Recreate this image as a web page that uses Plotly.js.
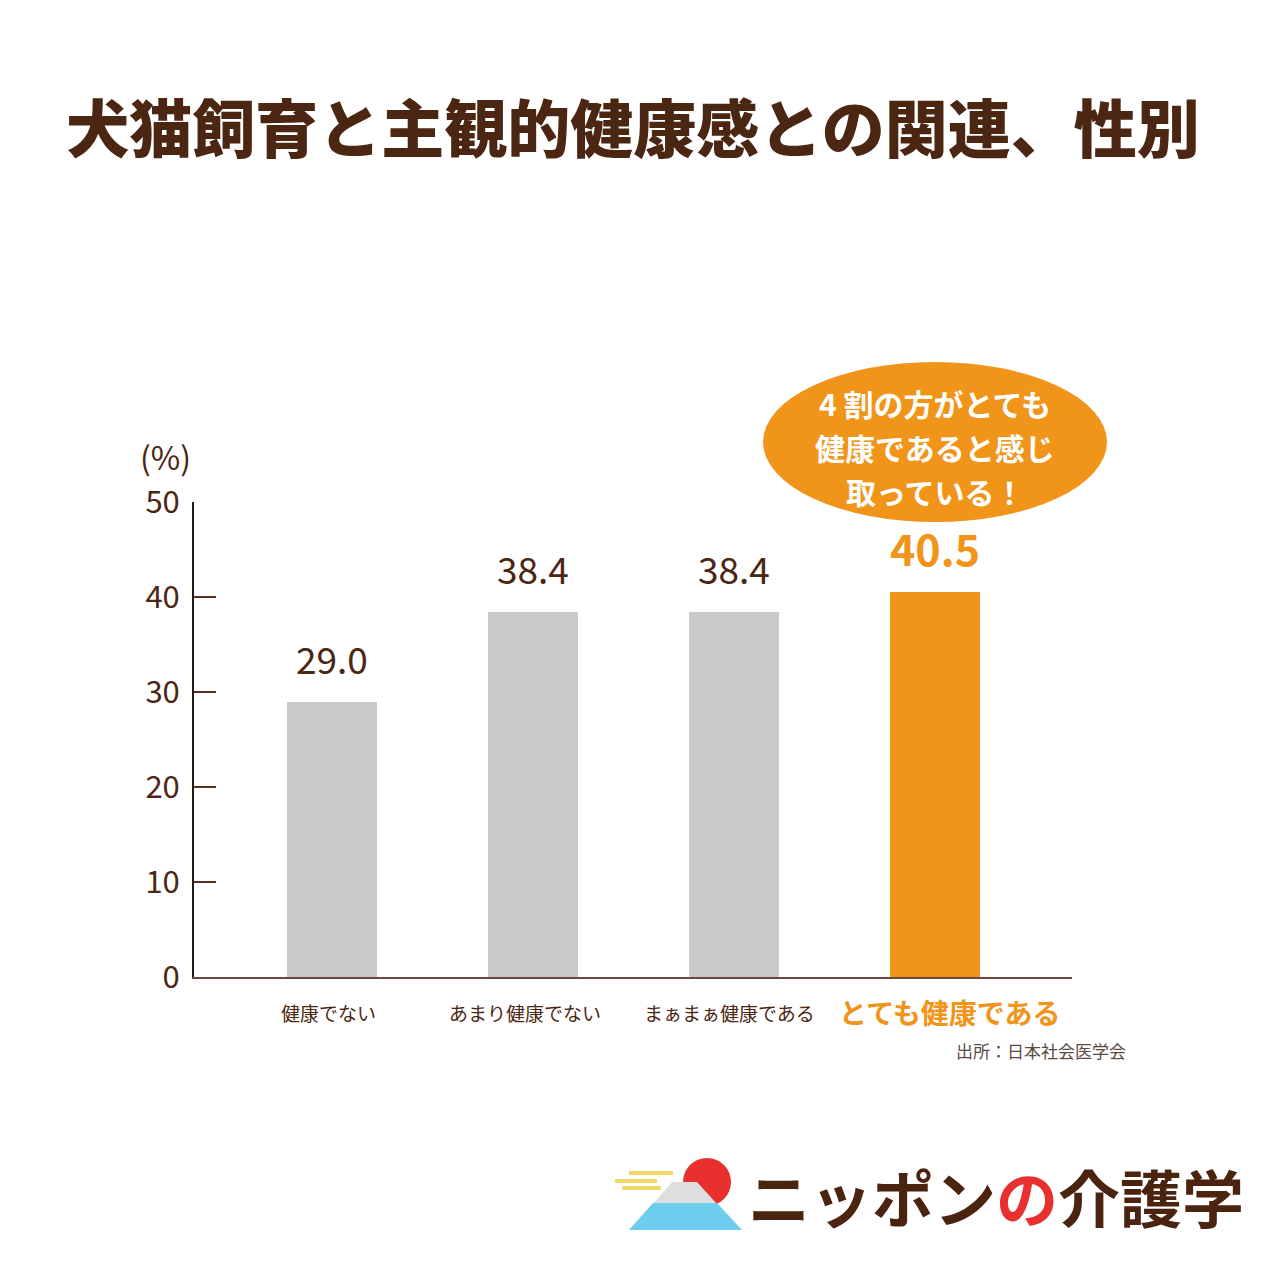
<!DOCTYPE html>
<html><head><meta charset="utf-8">
<script src="https://cdn.plot.ly/plotly-3.0.1.min.js"></script>
<style>html,body{margin:0;padding:0;background:#fff;}#chart{width:1280px;height:1280px;}</style>
</head><body><div id="chart"></div>
<script>
// ---- data ----
const categories = ["健康でない", "あまり健康でない", "まぁまぁ健康である", "とても健康である"];
const values = [29.0, 38.4, 38.4, 40.5];
const valueLabels = ["29.0", "38.4", "38.4", "40.5"];
const yTicks = [0, 10, 20, 30, 40, 50];
const highlightIndex = 3;
const title = "犬猫飼育と主観的健康感との関連、性別";
const unitLabel = "(%)";
const bubbleLines = ["4 割の方がとても", "健康であると感じ", "取っている！"];
const sourceText = "出所：日本社会医学会";

// ---- style ----
const BROWN = "#4b2612";
const ORANGE = "#f0941a";
const GRAY = "#c8c9c8";
const FONT = "'Noto Sans CJK JP', 'Noto Sans', sans-serif";

const W = 1280, H = 1280;
const M = {l: 194, r: 208, t: 502, b: 303};
const PW = W - M.l - M.r, PH = H - M.t - M.b;
const px = x => (x - M.l) / PW;
const py = y => (H - M.b - y) / PH;

const idx = categories.map((_, i) => i);
const barColors = idx.map(i => i === highlightIndex ? ORANGE : GRAY);

const trace = {
  type: "bar",
  x: idx,
  y: values,
  width: 0.448,
  marker: {color: barColors, line: {width: 0}},
  hoverinfo: "skip"
};

const annotations = [];
// value labels
idx.forEach(i => {
  const hi = i === highlightIndex;
  annotations.push({
    x: i, y: values[i], xref: "x", yref: "y",
    text: hi ? "<b>" + valueLabels[i] + "</b>" : valueLabels[i],
    showarrow: false, yanchor: "bottom", yshift: hi ? 12 : 15,
    font: {family: FONT, size: hi ? 43 : 37, color: hi ? ORANGE : BROWN}
  });
});
// category labels
idx.forEach(i => {
  const hi = i === highlightIndex;
  annotations.push({
    x: i, y: 0, xref: "x", yref: "y",
    text: hi ? "<b>" + categories[i] + "</b>" : categories[i],
    showarrow: false, yanchor: "middle", yshift: -35,
    xshift: hi ? 15 : (i === 0 ? -4 : (i === 1 ? -8 : -4)),
    font: {family: FONT, size: hi ? 28 : 19, color: hi ? ORANGE : BROWN}
  });
});
// unit label
annotations.push({
  x: px(165), y: py(456), xref: "paper", yref: "paper",
  text: unitLabel, showarrow: false, xanchor: "center", yanchor: "middle",
  font: {family: FONT, size: 32, color: BROWN}
});
// bubble text, one annotation per line
bubbleLines.forEach((t, k) => {
  annotations.push({
    x: px(935), y: py(403 + 44 * k), xref: "paper", yref: "paper",
    text: "<b>" + t + "</b>", showarrow: false,
    xanchor: "center", yanchor: "middle", align: "center",
    font: {family: FONT, size: 30, color: "#ffffff"}
  });
});
// source
annotations.push({
  x: px(1128), y: py(1050), xref: "paper", yref: "paper",
  text: sourceText, showarrow: false, xanchor: "right", yanchor: "middle",
  font: {family: FONT, size: 17, color: "#5a4a42"}
});
// logo text
annotations.push({
  x: px(746), y: py(1196), xref: "paper", yref: "paper",
  text: "<b>ニッポン<span style=\"color:#e8312f\">の</span>介護学</b>",
  showarrow: false, xanchor: "left", yanchor: "middle",
  font: {family: FONT, size: 62, color: "#4b2410"}
});

const P = (pts) => "M " + pts.map(p => px(p[0]) + " " + py(p[1])).join(" L ") + " Z";
const shapes = [
  // bubble
  {type: "circle", xref: "paper", yref: "paper", x0: px(763), x1: px(1107), y0: py(522), y1: py(362),
   fillcolor: ORANGE, line: {width: 0}, layer: "above"},
  // logo: yellow lines
  {type: "line", xref: "paper", yref: "paper", x0: px(629), x1: px(673), y0: py(1173), y1: py(1173), line: {color: "#f2d86a", width: 4}},
  {type: "line", xref: "paper", yref: "paper", x0: px(615), x1: px(657), y0: py(1181), y1: py(1181), line: {color: "#f2d86a", width: 4}},
  {type: "line", xref: "paper", yref: "paper", x0: px(622), x1: px(661), y0: py(1188), y1: py(1188), line: {color: "#f2d86a", width: 4}},
  // sun
  {type: "circle", xref: "paper", yref: "paper", x0: px(683), x1: px(731), y0: py(1206), y1: py(1158),
   fillcolor: "#e8312f", line: {width: 0}},
  // snow cap
  {type: "path", xref: "paper", yref: "paper",
   path: P([[653, 1204], [672, 1182], [697, 1182], [717, 1204]]),
   fillcolor: "#dedede", line: {width: 0}},
  // mountain
  {type: "path", xref: "paper", yref: "paper",
   path: P([[629, 1230], [653, 1203], [717, 1203], [742, 1230]]),
   fillcolor: "#6dcdee", line: {width: 0}}
];

const layout = {
  width: W, height: H,
  margin: M,
  paper_bgcolor: "#ffffff", plot_bgcolor: "#ffffff",
  showlegend: false,
  bargap: 0,
  title: {
    text: title,
    x: 0.5, xanchor: "center", xref: "paper",
    y: 1 - 130 / H, yref: "container", yanchor: "middle",
    font: {family: FONT, size: 63, color: BROWN, weight: 900}
  },
  xaxis: {
    range: [-0.687, 3.682], showgrid: false, zeroline: false,
    showline: true, linecolor: "#6b4a3a", linewidth: 2,
    showticklabels: false, ticks: "", fixedrange: true
  },
  yaxis: {
    range: [0, 50], tickvals: yTicks, ticktext: yTicks.map(String),
    showgrid: false, zeroline: false,
    showline: true, linecolor: "#231815", linewidth: 2,
    ticks: "inside", ticklen: 22, tickwidth: 2, tickcolor: "#5a3020",
    tickfont: {family: FONT, size: 31, color: BROWN},
    ticklabelstandoff: 6, fixedrange: true
  },
  annotations: annotations,
  shapes: shapes
};

Plotly.newPlot("chart", [trace], layout, {displayModeBar: false, staticPlot: true});
</script>
</body></html>
